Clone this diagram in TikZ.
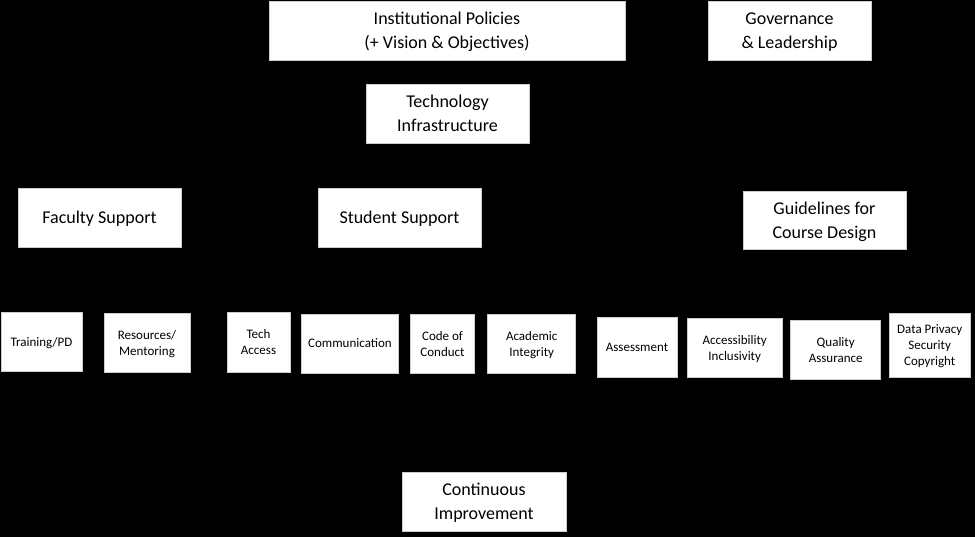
\documentclass[tikz,border=0pt]{standalone}
\usepackage{fontspec}
\setmainfont{Carlito}
\begin{document}
\begin{tikzpicture}[x=1pt,y=-1pt,
  bigbox/.style={fill=white,draw=white!80!black,line width=0.6pt,text=black,align=center,inner sep=0pt,
    minimum height=59pt,text depth=0pt,font=\fontsize{18}{24}\selectfont},
  smallbox/.style={fill=white,draw=white!80!black,line width=0.6pt,text=black,align=center,inner sep=0pt,
    minimum height=59pt,text depth=0pt,font=\fontsize{13}{16}\selectfont}]
\fill[black] (0,0) rectangle (975,537);
\useasboundingbox (0,0) rectangle (975,537);
\node[bigbox,minimum width=356pt] (pol) at (447,30.5) {Institutional Policies\\(+ Vision \& Objectives)};
\node[bigbox,minimum width=163pt] (gov) at (789.5,30.5) {Governance\\\& Leadership};
\node[bigbox,minimum width=163pt] (tech) at (447.5,113.5) {Technology\\Infrastructure};
\node[bigbox,minimum width=163pt] (fac) at (99.5,217.5) {Faculty Support};
\node[bigbox,minimum width=163pt] (stu) at (399.5,217.5) {Student Support};
\node[bigbox,minimum width=163pt,minimum height=58pt] (gui) at (824.5,220) {Guidelines for\\Course Design};
\node[smallbox,minimum width=81pt] (train) at (41.5,341.5) {Training/PD};
\node[smallbox,minimum width=86pt] (res) at (147,342.5) {Resources/\\Mentoring};
\node[smallbox,minimum width=63pt,minimum height=60pt] (tacc) at (258.5,342) {Tech\\Access};
\node[smallbox,minimum width=97pt] (comm) at (350,343.5) {Communication};
\node[smallbox,minimum width=64pt] (code) at (442.5,343.5) {Code of\\Conduct};
\node[smallbox,minimum width=88pt] (acad) at (531.7,344) {Academic\\Integrity};
\node[smallbox,minimum width=80pt,minimum height=60pt] (assm) at (637,347) {Assessment};
\node[smallbox,minimum width=95pt] (accs) at (734.7,347.5) {Accessibility\\Inclusivity};
\node[smallbox,minimum width=90pt] (qual) at (835.7,349.5) {Quality\\Assurance};
\node[smallbox,minimum width=81pt,minimum height=64pt] (data) at (929.7,345.5) {Data Privacy\\Security\\Copyright};
\node[bigbox,minimum width=164pt] (cont) at (484,501.3) {Continuous\\Improvement};
\end{tikzpicture}
\end{document}
